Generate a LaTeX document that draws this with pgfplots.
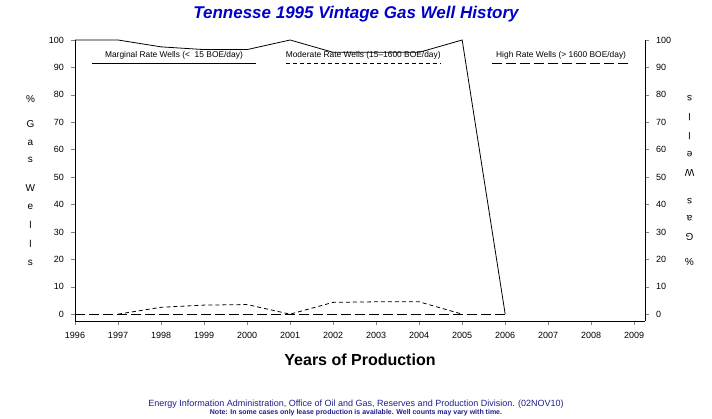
\documentclass[border=0pt]{standalone}
\usepackage{pgfplots}
\pgfplotsset{compat=1.18}
\usepackage{fontspec}
\setmainfont{Liberation Sans}
\definecolor{tblue}{RGB}{0,0,200}
\definecolor{fblue}{RGB}{30,30,140}
\begin{document}
\begin{tikzpicture}
\path[use as bounding box] (0,0) rectangle (356pt,209pt);
\pgfplotsset{every axis/.append style={at={(37.5pt,48.5pt)},anchor=south west,
  scale only axis, width=285pt, height=140.5pt,
  xmin=1996, xmax=2009.25, ymin=-2.5, ymax=100,
  ytick={0,10,...,100},
  tick label style={font=\fontsize{4.5}{5}\selectfont},
  /pgf/number format/assume math mode=true,
  tick align=outside, major tick length=2pt}}
\begin{axis}[
  axis x line*=bottom, axis y line*=left,
  xtick={1996,...,2009},
  xticklabel style={/pgf/number format/1000 sep=},
  xlabel={\textbf{Years of Production}}, xlabel style={font=\fontsize{8}{9}\selectfont, yshift=-1pt},
  ylabel={\shortstack{\%\\[6pt] G\\[3pt] a\\[3pt] s\\[8pt] W\\[3pt] e\\[3pt] l\\[3pt] l\\[3pt] s}}, ylabel style={rotate=-90,font=\fontsize{5}{6}\selectfont},
  clip=false]
\addplot[black, thin] coordinates {(1996,100)(1997,100)(1998,97.5)(1999,96.5)(2000,96.5)(2001,100)(2002,95.5)(2003,95.5)(2004,95.5)(2005,100)(2006,0)};
\addplot[black, thin, dash pattern=on 2pt off 1.5pt] coordinates {(1997,0)(1998,2.5)(1999,3.3)(2000,3.5)(2001,0)(2002,4.3)(2003,4.5)(2004,4.5)(2005,0)};
\addplot[black, thin, dash pattern=on 5pt off 2pt] coordinates {(1996,0)(1997,0)(1998,0)(1999,0)(2000,0)(2001,0)(2002,0)(2003,0)(2004,0)(2005,0)(2006,0)};
\node[font=\fontsize{4.2}{5}\selectfont] at (axis cs:1998.3,94.5) {Marginal Rate Wells (<\ \ 15 BOE/day)};
\draw[thin] (axis cs:1996.4,91.5) -- (axis cs:2000.2,91.5);
\node[font=\fontsize{4.2}{5}\selectfont] at (axis cs:2002.7,94.5) {Moderate Rate Wells (15--1600 BOE/day)};
\draw[thin,dash pattern=on 2pt off 1.5pt] (axis cs:2000.9,91.5) -- (axis cs:2004.5,91.5);
\node[font=\fontsize{4.2}{5}\selectfont] at (axis cs:2007.3,94.5) {High Rate Wells (> 1600 BOE/day)};
\draw[thin,dash pattern=on 5pt off 2pt] (axis cs:2005.7,91.5) -- (axis cs:2008.9,91.5);
\end{axis}
\begin{axis}[
  axis x line=none, axis y line*=right,
  ylabel={\shortstack{\%\\[6pt] G\\[3pt] a\\[3pt] s\\[8pt] W\\[3pt] e\\[3pt] l\\[3pt] l\\[3pt] s}}, ylabel style={rotate=90,font=\fontsize{5}{6}\selectfont}]
\addplot[draw=none] coordinates {(1996,0)};
\end{axis}
\node[font=\fontsize{8.5}{10}\selectfont\bfseries\itshape, text=tblue] at (178pt,202pt) {Tennesse 1995 Vintage Gas Well History};
\node[font=\fontsize{4.5}{5}\selectfont, text=fblue] at (178pt,7pt) {Energy Information Administration, Office of Oil and Gas, Reserves and Production Division. (02NOV10)};
\node[font=\fontsize{3.5}{4}\selectfont\bfseries, text=fblue] at (178pt,2.5pt) {Note: In some cases only lease production is available. Well counts may vary with time.};
\end{tikzpicture}
\end{document}
